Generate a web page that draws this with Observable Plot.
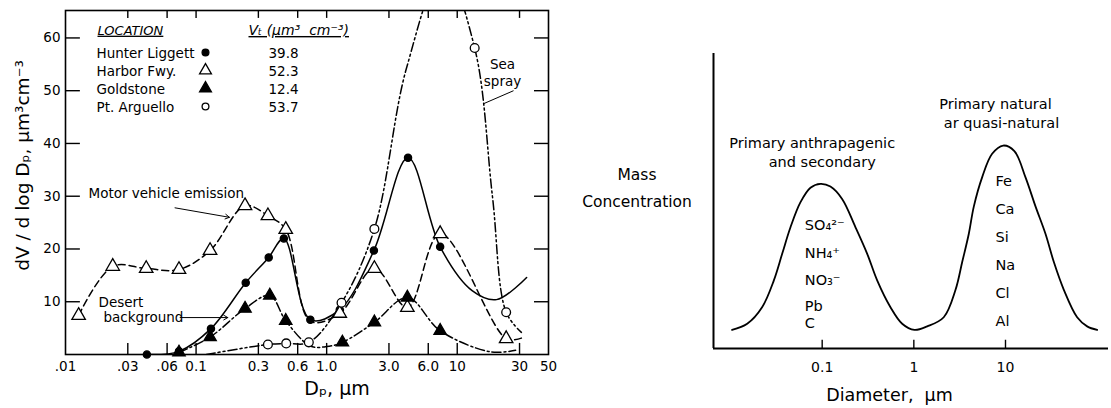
<!DOCTYPE html>
<html><head><meta charset="utf-8">
<script src="https://cdn.jsdelivr.net/npm/d3@7"></script>
<script src="https://cdn.jsdelivr.net/npm/@observablehq/plot@0.6"></script>
<style>
body{margin:0;background:#fff;}
#wrap{position:relative;width:1111px;height:408px;overflow:hidden;background:#fff;}
#left{position:absolute;left:0;top:0;}
#right{position:absolute;left:560px;top:0;}
</style></head><body><div id="wrap"><div id="left"></div><div id="right"></div></div>
<script>
// ---------- Left panel data: dV/dlogDp (µm³ cm⁻³) vs Dp (µm) ----------
const locations   = ["Hunter Liggett", "Harbor Fwy.", "Goldstone", "Pt. Arguello"];
const totalVolume = ["39.8", "52.3", "12.4", "53.7"];

const hunterDp = [0.042, 0.074, 0.13, 0.24, 0.36, 0.47, 0.75, 1.26, 2.3, 4.2, 7.4];
const hunterDV = [0, 0.6, 4.9, 13.6, 18.4, 22.0, 6.6, 8.5, 19.7, 37.3, 20.4];
const hunterTailDp = [13, 20, 34];
const hunterTailDV = [12.1, 10.4, 14.6];

const harborDp = [0.0126, 0.023, 0.0415, 0.074, 0.128, 0.237, 0.355, 0.486, 1.26, 2.32, 4.15, 7.4, 23.7];
const harborDV = [7.4, 16.7, 16.3, 16.1, 19.7, 28.2, 26.3, 23.7, 7.8, 16.3, 8.9, 22.9, 3.0];
const harborTailDp = [0.75, 31];
const harborTailDV = [6.3, 3.1];

const goldDp = [0.074, 0.128, 0.237, 0.367, 0.486, 1.32, 2.32, 4.15, 7.4];
const goldDV = [0.4, 3.3, 8.7, 11.2, 6.4, 2.3, 6.1, 10.8, 4.5];
const goldTailDp = [0.75, 1.0, 18, 28];
const goldTailDV = [1.6, 1.5, 0.5, 0.8];

const argDp = [0.355, 0.49, 0.73, 1.30, 2.32, 13.6, 23.7];
const argDV = [1.9, 2.1, 2.3, 9.8, 23.8, 58.1, 8.0];
const argTailDp = [0.12, 4.1, 7.9, 18.6, 31];
const argTailDV = [0, 54.4, 73, 30, 4.2];

const xTickVals   = [0.01, 0.03, 0.06, 0.1, 0.3, 0.6, 1, 3, 6, 10, 30, 50];
const xTickLabels = [".01", ".03", ".06", "0.1", "0.3", "0.6", "1.0", "3.0", "6.0", "10", "30", "50"];
const xTickMarks  = [0.03, 0.06, 0.1, 0.3, 0.6, 1, 3, 6, 10, 30];
const yTickVals   = [10, 20, 30, 40, 50, 60];

// ---------- Right panel data: schematic mass distribution ----------
const massDiam = [0.0104, 0.0152, 0.0221, 0.0297, 0.0366, 0.0451, 0.058, 0.0745, 0.0958, 0.123, 0.165, 0.231, 0.310, 0.398, 0.556, 0.746, 1.016,
                  1.40, 2.12, 2.85, 3.37, 3.98, 4.51, 5.57, 7.15, 9.43, 12.5, 16.5, 21.3, 27.3, 33.7, 43.3, 60.5, 77.8, 100];
const massConc = [0.063, 0.084, 0.140, 0.231, 0.321, 0.411, 0.496, 0.545, 0.558, 0.549, 0.507, 0.411, 0.321, 0.231, 0.140, 0.084, 0.063,
                  0.075, 0.106, 0.199, 0.293, 0.389, 0.481, 0.581, 0.660, 0.688, 0.669, 0.581, 0.481, 0.389, 0.293, 0.199, 0.106, 0.075, 0.063];
const rTickVals   = [0.1, 1, 10];
const rTickLabels = ["0.1", "1", "10"];
const fineSpecies   = ["SO₄²⁻", "NH₄⁺", "NO₃⁻", "Pb", "C"];
const coarseSpecies = ["Fe", "Ca", "Si", "Na", "Cl", "Al"];

// ---------- helpers ----------
const FONT = "'DejaVu Sans', Verdana, sans-serif";
const pts = (xs, ys) => xs.map((x, i) => ({x, y: ys[i]}));
const curvePts = (xs, ys, tx, ty) => pts(xs, ys).concat(pts(tx, ty)).sort((a, b) => a.x - b.x);
const xLabel = new Map(xTickVals.map((v, i) => [v, xTickLabels[i]]));
const rLabel = new Map(rTickVals.map((v, i) => [v, rTickLabels[i]]));

const X_DOMAIN = [0.01, 50], Y_MAX = 65.2;
const series = [
  {pts: pts(hunterDp, hunterDV), line: curvePts(hunterDp, hunterDV, hunterTailDp, hunterTailDV), dash: null, symbol: "circle", r: 3.6, fill: "black"},
  {pts: pts(harborDp, harborDV), line: curvePts(harborDp, harborDV, harborTailDp, harborTailDV), dash: "7,4", symbol: "triangle", r: 5, fill: "white"},
  {pts: pts(goldDp, goldDV), line: curvePts(goldDp, goldDV, goldTailDp, goldTailDV), dash: "9,3,2,3", symbol: "triangle", r: 4.6, fill: "black"},
  {pts: pts(argDp, argDV), line: curvePts(argDp, argDV, argTailDp, argTailDV), dash: "9,3,2,3,2,3", symbol: "circle", r: 4.4, fill: "white"}
];

const FS = 13.5;
const leftMarks = [
  Plot.frame({stroke: "black", strokeWidth: 1.6}),
  Plot.ruleX(xTickMarks, {y1: 0, y2: 2.1, stroke: "black", strokeWidth: 1.4}),
  Plot.ruleX(xTickMarks, {y1: Y_MAX, y2: Y_MAX - 1.5, stroke: "black", strokeWidth: 1.4}),
  Plot.ruleY(yTickVals, {x1: X_DOMAIN[0], x2: X_DOMAIN[0] * 1.30, stroke: "black", strokeWidth: 1.4}),
  Plot.ruleY(yTickVals, {x1: X_DOMAIN[1] / 1.28, x2: X_DOMAIN[1], stroke: "black", strokeWidth: 1.4}),
  Plot.text(xTickVals, {x: d => d, text: d => xLabel.get(d), frameAnchor: "bottom", dy: 12, fontSize: FS, textAnchor: "middle", lineAnchor: "middle"}),
  Plot.axisY({ticks: yTickVals, tickSize: 0, tickPadding: 5, fontSize: FS, label: null}),
  Plot.text(["Dₚ, μm"], {frameAnchor: "bottom", dx: 30, dy: 34, fontSize: 19, lineAnchor: "middle", textAnchor: "middle"}),
  Plot.text(["dV / d log Dₚ, μm³cm⁻³"], {frameAnchor: "left", rotate: -90, dx: -42, dy: -17, fontSize: 18.5, lineAnchor: "middle", textAnchor: "middle"})
];
series.forEach(s => {
  leftMarks.push(Plot.line(s.line, {x: "x", y: "y", curve: "catmull-rom", stroke: "black", strokeWidth: 1.5, strokeDasharray: s.dash, clip: true}));
});
series.forEach(s => {
  leftMarks.push(Plot.dot(s.pts, {x: "x", y: "y", symbol: s.symbol, r: s.r, fill: s.fill, stroke: "black", strokeWidth: 1.3}));
});
// legend
leftMarks.push(
  Plot.text(["LOCATION"], {frameAnchor: "top-left", dx: 32, dy: 20, fontSize: 13, fontStyle: "italic", textAnchor: "start", lineAnchor: "middle"}),
  Plot.text(["Vₜ (μm³  cm⁻³)"], {frameAnchor: "top-left", dx: 183, dy: 20, fontSize: 14, fontStyle: "italic", textAnchor: "start", lineAnchor: "middle"}),
  Plot.text([locations.join("\n")], {frameAnchor: "top-left", dx: 31, dy: 69, fontSize: FS, lineHeight: 1.333, textAnchor: "start", lineAnchor: "middle"}),
  Plot.text([totalVolume.join("\n")], {frameAnchor: "top-left", dx: 203, dy: 69, fontSize: FS, lineHeight: 1.333, textAnchor: "start", lineAnchor: "middle"})
);
series.forEach((s, i) => {
  leftMarks.push(Plot.dot([locations[i]], {frameAnchor: "top-left", dx: 140, dy: 42 + 18 * i, symbol: s.symbol, r: s.symbol === "triangle" ? 4.4 : 3.4, fill: s.fill, stroke: "black", strokeWidth: 1.3}));
});
// annotations
leftMarks.push(
  Plot.text(["Sea\nspray"], {frameAnchor: "top-left", dx: 437, dy: 62, fontSize: FS, lineHeight: 1.25, textAnchor: "middle", lineAnchor: "middle"}),
  Plot.link([{x1: 27, y1: 50, x2: 15.8, y2: 47.5}], {x1: "x1", y1: "y1", x2: "x2", y2: "y2", stroke: "black", strokeWidth: 1}),
  Plot.text(["Motor vehicle emission"], {frameAnchor: "top-left", dx: 23, dy: 183, fontSize: FS, textAnchor: "start", lineAnchor: "middle"}),
  Plot.arrow([{x1: 0.069, y1: 27.8, x2: 0.18, y2: 26.0}], {x1: "x1", y1: "y1", x2: "x2", y2: "y2", stroke: "black", strokeWidth: 1, headLength: 7}),
  Plot.text(["Desert"], {frameAnchor: "top-left", dx: 33, dy: 292, fontSize: FS, textAnchor: "start", lineAnchor: "middle"}),
  Plot.text(["background"], {frameAnchor: "top-left", dx: 38, dy: 307, fontSize: FS, textAnchor: "start", lineAnchor: "middle"}),
  Plot.arrow([{x1: 0.0755, y1: 7.0, x2: 0.175, y2: 7.0}], {x1: "x1", y1: "y1", x2: "x2", y2: "y2", stroke: "black", strokeWidth: 1, headLength: 7})
);

const left = Plot.plot({
  width: 560, height: 408,
  marginLeft: 65, marginRight: 12, marginTop: 10, marginBottom: 54,
  x: {type: "log", domain: X_DOMAIN, axis: null},
  y: {domain: [0, Y_MAX]},
  style: {fontFamily: FONT, fontSize: "14px", color: "black", background: "white", overflow: "visible"},
  marks: leftMarks
});
d3.select(left).selectAll("text").filter(function () {
  return this.textContent === "LOCATION" || this.textContent.startsWith("Vₜ");
}).style("text-decoration", "underline");
document.getElementById("left").appendChild(left);

// ---------- Right panel ----------
const R_DOMAIN = [0.00652, 133];
const rText = (t, dx, dy, extra = {}) => Plot.text([t], {frameAnchor: "top-left", dx, dy, fontSize: 14.5, textAnchor: "middle", lineAnchor: "middle", ...extra});
const right = Plot.plot({
  width: 551, height: 408,
  marginLeft: 153, marginRight: 3, marginTop: 53, marginBottom: 60,
  x: {type: "log", domain: R_DOMAIN, axis: null},
  y: {domain: [0, 1], axis: null},
  style: {fontFamily: FONT, fontSize: "14px", color: "black", background: "white", overflow: "visible"},
  marks: [
    Plot.ruleX([R_DOMAIN[0]], {stroke: "black", strokeWidth: 2}),
    Plot.ruleY([0], {stroke: "black", strokeWidth: 2}),
    Plot.ruleX(rTickVals, {y1: 0, y2: 0.028, stroke: "black", strokeWidth: 1.4}),
    Plot.text(rTickVals, {x: d => d, text: d => rLabel.get(d), frameAnchor: "bottom", dy: 19, fontSize: 14, textAnchor: "middle", lineAnchor: "middle"}),
    Plot.line(pts(massDiam, massConc), {x: "x", y: "y", curve: "catmull-rom", stroke: "black", strokeWidth: 1.8}),
    Plot.text(["Diameter,  μm"], {frameAnchor: "bottom", dx: 889 - 560 - (153 + 548) / 2, dy: 47, fontSize: 17.5, textAnchor: "middle", lineAnchor: "middle"}),
    rText("Mass\nConcentration", -76.5, 131.5, {fontSize: 15.5, lineHeight: 1.75}),
    rText("Primary anthrapagenic", 98.7, 90.3),
    rText("and secondary", 108.7, 108.7),
    rText("Primary natural", 282, 51.3),
    rText("ar quasi-natural", 288, 70.3),
    ...fineSpecies.map((s, i) => rText(s, 91.3, [172, 200.3, 227, 253, 270.3][i], {textAnchor: "start", fontSize: 14.5})),
    rText(coarseSpecies.join("\n"), 282, 193.7, {textAnchor: "start", fontSize: 14.5, lineHeight: 1.93})
  ]
});
document.getElementById("right").appendChild(right);
</script></body></html>
